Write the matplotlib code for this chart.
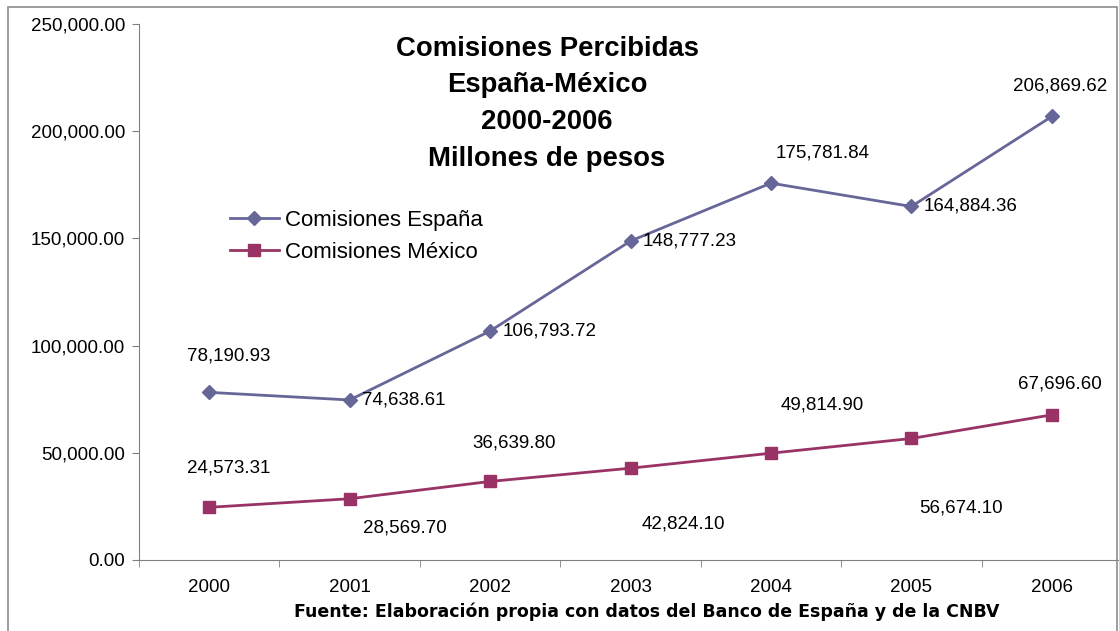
import matplotlib.pyplot as plt
from matplotlib.patches import Rectangle
from matplotlib.ticker import FuncFormatter

years = ['2000', '2001', '2002', '2003', '2004', '2005', '2006']
espana = [78190.93, 74638.61, 106793.72, 148777.23, 175781.84, 164884.36, 206869.62]
mexico = [24573.31, 28569.70, 36639.80, 42824.10, 49814.90, 56674.10, 67696.60]

# label offsets in points (dx, dy) and alignment for each data label
esp_off = [(14, 26, 'center'), (9, 0, 'left'), (9, 0, 'left'), (9, 0, 'left'),
           (37, 22, 'center'), (9, 0, 'left'), (6, 22, 'center')]
mex_off = [(14, 28, 'center'), (40, -21, 'center'), (17, 28, 'center'), (38, -40, 'center'),
           (37, 35, 'center'), (36, -50, 'center'), (6, 22, 'center')]

plt.rcParams['font.family'] = ['Liberation Sans', 'DejaVu Sans']

fig = plt.figure(figsize=(11.19, 6.31), dpi=100)
W, H = 1119, 631
ax = fig.add_axes([139 / W, 71 / H, (1122 - 139) / W, 536 / H])

# outer chart border
fig.patches.append(Rectangle((8 / W, -0.01), (1117 - 8) / W, (631 - 7) / H + 0.01,
                             transform=fig.transFigure, fill=False,
                             edgecolor='#8c8c8c', linewidth=1.2))

x = list(range(len(years)))
ax.plot(x, espana, color='#666699', linewidth=2, marker='D', markersize=7,
        label='Comisiones España')
ax.plot(x, mexico, color='#993366', linewidth=2, marker='s', markersize=8,
        label='Comisiones México')

for xi, v, (dx, dy, ha) in zip(x, espana, esp_off):
    ax.annotate(f'{v:,.2f}', (xi, v), xytext=(dx, dy), textcoords='offset points',
                ha=ha, va='center', fontsize=13.5)
for xi, v, (dx, dy, ha) in zip(x, mexico, mex_off):
    ax.annotate(f'{v:,.2f}', (xi, v), xytext=(dx, dy), textcoords='offset points',
                ha=ha, va='center', fontsize=13.5)

ax.set_xlim(-0.5, len(years) - 0.5)
ax.set_ylim(0, 250000)
ax.set_yticks(range(0, 250001, 50000))
ax.yaxis.set_major_formatter(FuncFormatter(lambda v, p: f'{v:,.2f}'))
ax.set_xticks(x)
ax.set_xticklabels(years)
ax.set_xticks([i - 0.5 for i in range(len(years) + 1)], minor=True)
ax.tick_params(axis='x', which='major', length=0, pad=14, labelsize=13.5)
ax.tick_params(axis='x', which='minor', length=5, color='#808080')
ax.tick_params(axis='y', length=5, color='#808080', labelsize=13.5, pad=5)

for side in ['top', 'right']:
    ax.spines[side].set_visible(False)
for side in ['left', 'bottom']:
    ax.spines[side].set_color('#808080')

title_lines = ['Comisiones Percibidas', 'España-México', '2000-2006', 'Millones de pesos']
for i, line in enumerate(title_lines):
    fig.text(547 / W, 1 - (49 + 36.5 * i) / H, line, ha='center', va='center',
             fontsize=19.8, fontweight='bold')

ax.legend(loc='upper left', bbox_to_anchor=(82 / 983, 1 - 177 / 536), frameon=False,
          fontsize=16, handlelength=2.2, handletextpad=0.3, labelspacing=0.5,
          borderaxespad=0)

fig.text(647 / W, 1 - 612 / H,
         'Fuente: Elaboración propia con datos del Banco de España y de la CNBV',
         ha='center', va='center', fontsize=12.5, fontweight='bold',
         family=['DejaVu Sans'])

fig.savefig('out.png', dpi=100)
